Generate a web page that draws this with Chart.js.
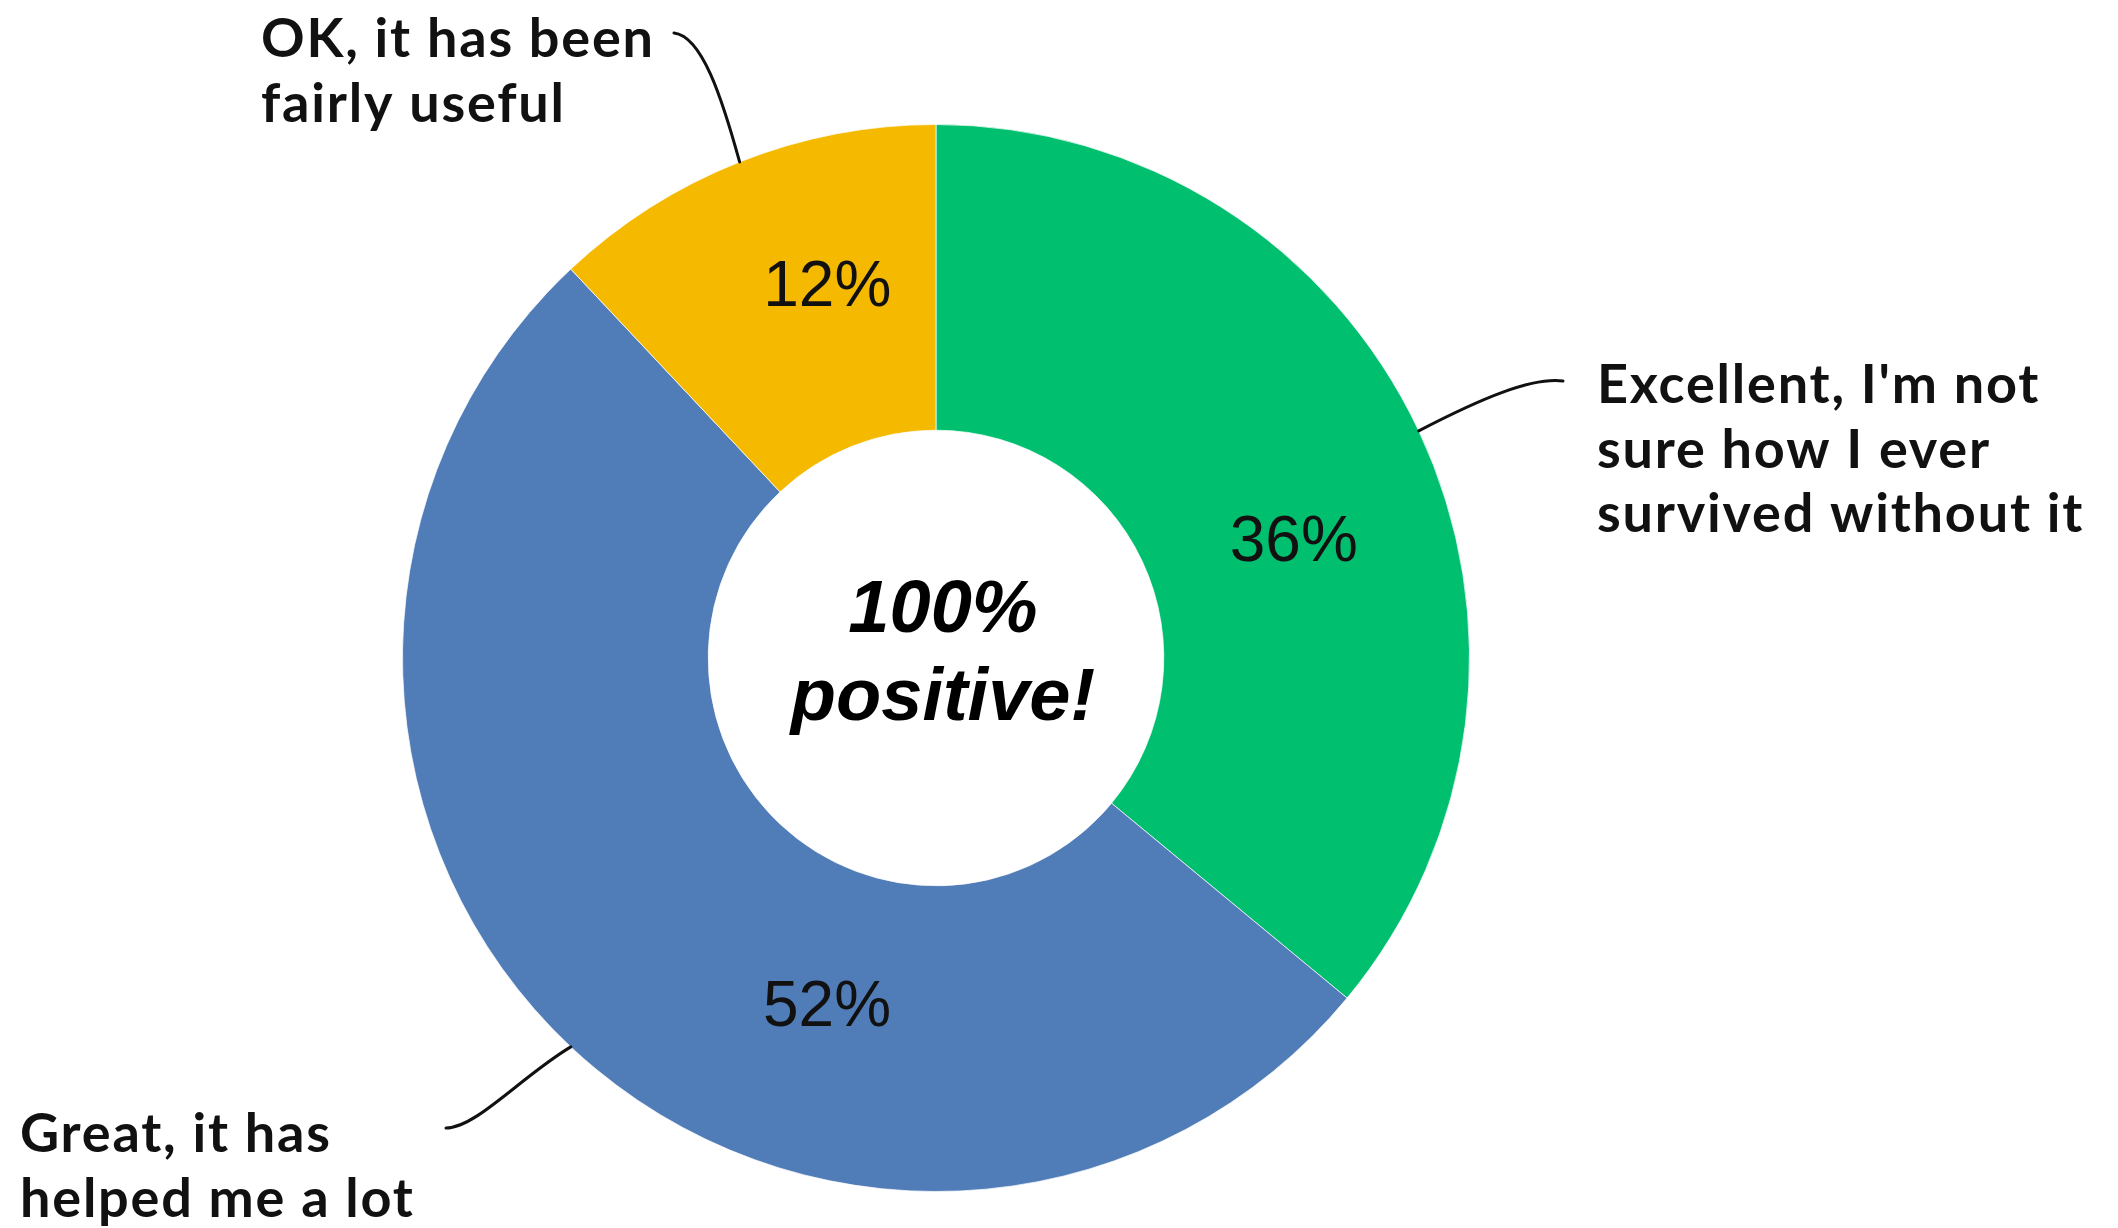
<!DOCTYPE html>
<html>
<head>
<meta charset="utf-8">
<title>Survey results</title>
<script src="https://cdn.jsdelivr.net/npm/chart.js@4.4.1/dist/chart.umd.min.js"></script>
<style>
  html, body { margin: 0; padding: 0; background: #ffffff; }
  canvas { display: block; }
</style>
</head>
<body>
<canvas id="chart" width="2118" height="1228"></canvas>
<script>
// Answer categories, clockwise from 12 o'clock
const categories = [
  ["Excellent, I'm not", "sure how I ever", "survived without it"],
  ["Great, it has", "helped me a lot"],
  ["OK, it has been", "fairly useful"]
];
// Share of respondents, in percent
const shares = [36, 52, 12];
const sliceColors = ['#00BF6F', '#507CB7', '#F5B900'];
const centerLines = ['100%', 'positive!'];

// Value labels placed inside the ring: angle offset from the slice middle
// (degrees, clockwise) and distance from the centre as a fraction of the outer radius.
const valueLabelPlacement = [
  { dAngle: 7.5, r: 0.704 },
  { dAngle: -25.9, r: 0.687 },
  { dAngle: 5.2, r: 0.722 }
];

// Callout leaders from each slice's outer edge to its category text.
const callouts = [
  { end: [1563, 381], c1: [1482, 398], c2: [1532, 377], text: [1597, 403] },
  { end: [446, 1128], c1: [522, 1076], c2: [476, 1128], text: [20, 1152] },
  { end: [674, 33],  c1: [722, 98],  c2: [702, 36],  text: [261, 57] }
];

const annotate = {
  id: 'annotate',
  afterDatasetsDraw(chart) {
    const ctx = chart.ctx;
    const arcs = chart.getDatasetMeta(0).data;
    ctx.save();
    arcs.forEach((arc, i) => {
      const mid = (arc.startAngle + arc.endAngle) / 2;
      const R = arc.outerRadius;

      // value label
      const p = valueLabelPlacement[i];
      const a = mid + p.dAngle * Math.PI / 180;
      ctx.fillStyle = '#111111';
      ctx.font = '64px "Liberation Sans", Arial, sans-serif';
      ctx.letterSpacing = '0px';
      ctx.textAlign = 'center';
      ctx.textBaseline = 'middle';
      ctx.fillText(shares[i] + '%', arc.x + Math.cos(a) * R * p.r, arc.y + Math.sin(a) * R * p.r);

      // leader line
      const c = callouts[i];
      const sx = arc.x + Math.cos(mid) * R;
      const sy = arc.y + Math.sin(mid) * R;
      ctx.strokeStyle = '#111111';
      ctx.lineWidth = 3;
      ctx.lineCap = 'round';
      ctx.beginPath();
      ctx.moveTo(sx, sy);
      ctx.bezierCurveTo(c.c1[0], c.c1[1], c.c2[0], c.c2[1], c.end[0], c.end[1]);
      ctx.stroke();

      // category text
      ctx.fillStyle = '#111111';
      ctx.font = 'bold 54px Lato, "Open Sans", sans-serif';
      ctx.letterSpacing = '1.8px';
      ctx.textAlign = 'left';
      ctx.textBaseline = 'alphabetic';
      categories[i].forEach((line, k) => {
        ctx.fillText(line, c.text[0], c.text[1] + k * 64.5);
      });
    });

    // centre caption
    const cx = arcs[0].x + 7, cy = arcs[0].y;
    ctx.fillStyle = '#000000';
    ctx.font = 'italic bold 74px "Liberation Sans", Arial, sans-serif';
    ctx.letterSpacing = '0px';
    ctx.textAlign = 'center';
    ctx.textBaseline = 'alphabetic';
    ctx.fillText(centerLines[0], cx, cy - 26);
    ctx.fillText(centerLines[1], cx, cy + 62);
    ctx.restore();
  }
};

new Chart(document.getElementById('chart'), {
  type: 'doughnut',
  data: {
    labels: categories.map(l => l.join(' ')),
    datasets: [{
      data: shares,
      backgroundColor: sliceColors,
      borderColor: 'rgba(255,255,255,0.7)',
      borderWidth: 1
    }]
  },
  options: {
    responsive: false,
    devicePixelRatio: 1,
    animation: false,
    cutout: '42.7%',
    layout: { padding: { top: 124, bottom: 36, left: 402, right: 648 } },
    plugins: {
      legend: { display: false },
      tooltip: { enabled: false }
    }
  },
  plugins: [annotate]
});
</script>
</body>
</html>
